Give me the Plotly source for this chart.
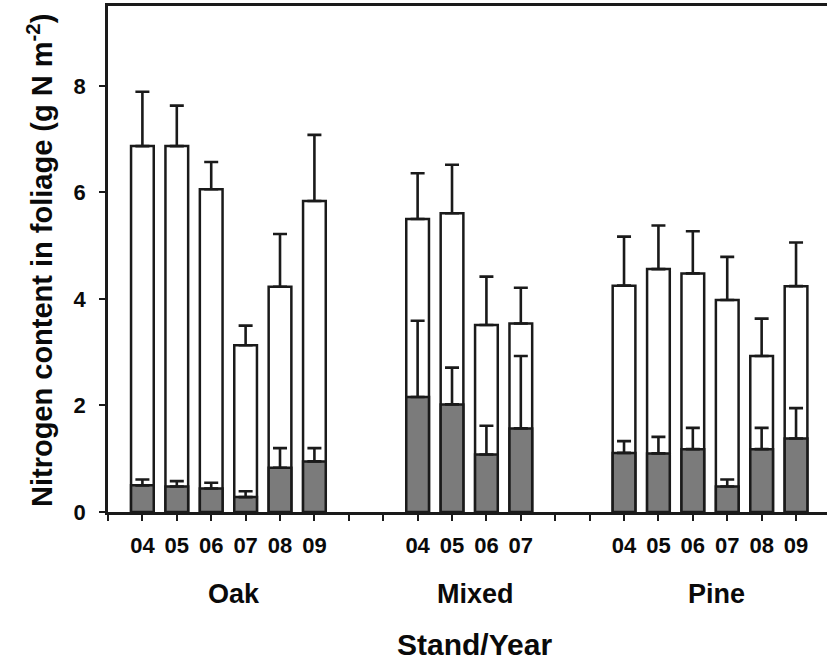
import plotly.graph_objects as go

# ---- data ----
stands = ["Oak", "Mixed", "Pine"]
years_oak = ["04", "05", "06", "07", "08", "09"]
years_mixed = ["04", "05", "06", "07"]
years_pine = ["04", "05", "06", "07", "08", "09"]

total_oak = [6.87, 6.87, 6.06, 3.13, 4.23, 5.84]
total_mixed = [5.50, 5.61, 3.51, 3.54]
total_pine = [4.25, 4.56, 4.48, 3.98, 2.93, 4.24]

total_err_oak = [1.02, 0.76, 0.51, 0.37, 0.99, 1.24]
total_err_mixed = [0.86, 0.91, 0.91, 0.67]
total_err_pine = [0.92, 0.82, 0.79, 0.81, 0.70, 0.82]

part_oak = [0.50, 0.48, 0.44, 0.28, 0.83, 0.95]
part_mixed = [2.16, 2.02, 1.08, 1.57]
part_pine = [1.11, 1.10, 1.18, 0.48, 1.18, 1.38]

part_err_oak = [0.11, 0.10, 0.11, 0.11, 0.37, 0.25]
part_err_mixed = [1.43, 0.69, 0.54, 1.36]
part_err_pine = [0.22, 0.31, 0.40, 0.13, 0.40, 0.57]

# ---- assemble slots (two empty slots between stands) ----
groups = [
    (years_oak, total_oak, total_err_oak, part_oak, part_err_oak),
    (years_mixed, total_mixed, total_err_mixed, part_mixed, part_err_mixed),
    (years_pine, total_pine, total_err_pine, part_pine, part_err_pine),
]
GAP = 2
xs, labels, tot, tot_e, prt, prt_e, centers = [], [], [], [], [], [], []
pos = 1
for yrs, t, te, p, pe in groups:
    start = pos
    for i, yr in enumerate(yrs):
        xs.append(pos)
        labels.append(yr)
        tot.append(t[i]); tot_e.append(te[i])
        prt.append(p[i]); prt_e.append(pe[i])
        pos += 1
    centers.append((start + pos - 1) / 2)
    pos += GAP

FONT = "Liberation Sans, Arial, sans-serif"
LINE = "#1a1a1a"
TXT = "#0a0a0a"
BW = 0.66

fig = go.Figure()
fig.add_trace(go.Bar(
    x=xs, y=tot, width=BW,
    marker=dict(color="white", line=dict(color=LINE, width=2.5)),
    error_y=dict(type="data", array=tot_e, arrayminus=[0] * len(tot_e), symmetric=False,
                 color=LINE, thickness=2.6, width=7),
    showlegend=False,
))
fig.add_trace(go.Bar(
    x=xs, y=prt, width=BW,
    marker=dict(color="#7b7b7b", line=dict(color=LINE, width=2.5)),
    error_y=dict(type="data", array=prt_e, arrayminus=[0] * len(prt_e), symmetric=False,
                 color=LINE, thickness=2.6, width=7),
    showlegend=False,
))

for name, c in zip(stands, centers):
    fig.add_annotation(x=c, y=-0.163, xref="x", yref="paper", text=name, showarrow=False,
                       xshift=6, yanchor="middle",
                       font=dict(family=FONT, size=27, color=TXT, weight="bold"))

fig.add_annotation(x=0.51, y=-0.262, xref="paper", yref="paper", text="Stand/Year",
                   showarrow=False, yanchor="middle",
                   font=dict(family=FONT, size=30, color=TXT, weight="bold"))

fig.add_annotation(x=(40 - 108) / 719, y=0.496, xref="paper", yref="paper",
                   text="Nitrogen content in foliage (g N m<sup>-2</sup>)", textangle=-90,
                   showarrow=False, xanchor="center", yanchor="middle",
                   font=dict(family=FONT, size=29, color=TXT, weight="bold"))

fig.update_layout(
    width=827, height=662,
    margin=dict(l=108, r=0, t=6, b=150),
    paper_bgcolor="white", plot_bgcolor="white",
    barmode="overlay",
    xaxis=dict(range=[0, 20.9], tickmode="array", tickvals=xs, ticktext=labels,
               ticks="outside", ticklen=6, tickwidth=2, tickcolor=LINE,
               minor=dict(tickmode="linear", tick0=0, dtick=1, ticks="outside",
                          ticklen=6, tickwidth=2, tickcolor=LINE, showgrid=False),
               showline=True, linecolor=LINE, linewidth=2.5, mirror=True,
               showgrid=False, zeroline=False, ticklabelstandoff=6,
               tickfont=dict(family=FONT, size=22, color=TXT, weight="bold")),
    yaxis=dict(range=[0, 9.5], tickvals=[0, 2, 4, 6, 8],
               ticks="outside", ticklen=6, tickwidth=2, tickcolor=LINE,
               showline=True, linecolor=LINE, linewidth=2.5,
               showgrid=False, zeroline=False, ticklabelstandoff=9,
               tickfont=dict(family=FONT, size=22, color=TXT, weight="bold")),
)

fig.write_html("out.html")
